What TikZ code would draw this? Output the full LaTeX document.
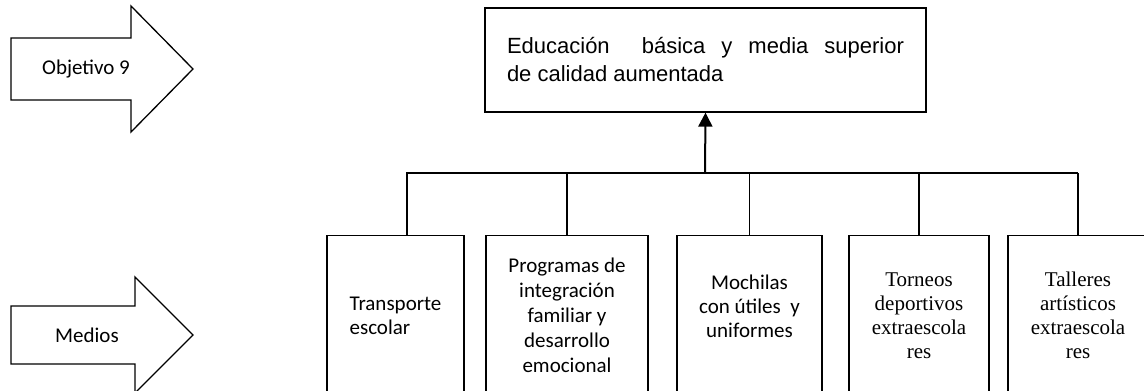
\documentclass[tikz,border=0pt]{standalone}
\usepackage{fontspec}
\setmainfont{Carlito}
\newfontfamily\arialfont{Liberation Sans}
\newfontfamily\timesfont{Liberation Serif}
\usetikzlibrary{arrows.meta}
\begin{document}
\begin{tikzpicture}[x=1pt, y=-1pt, line width=1.3pt,
  every node/.style={font=\fontsize{21}{24}\selectfont},
  medio/.style={draw, minimum width=#1, minimum height=160pt, anchor=north, inner sep=2pt, align=center}]
  \useasboundingbox (0,0) rectangle (1144,391);
  % flechas de la izquierda
  \draw (11,38)--(131,38)--(131,6)--(193,69)--(131,132)--(131,100)--(11,100)--cycle;
  \draw (11,306)--(135,306)--(135,277)--(193,335)--(135,393)--(135,364)--(11,364)--cycle;
  \node (obj) at (86,69) {Objetivo 9};
  \node (med) at (87,335) {Medios};
  % objetivo
  \node[draw, minimum width=441pt, minimum height=104pt, text width=397pt, align=justify,
        font=\arialfont\fontsize{22}{28}\selectfont] (goal) at (705.5,60)
        {Educación\ \ básica y media superior\linebreak de calidad aumentada};
  % medios
  \node[medio=137pt, align=left] (t1) at (395.5,235) {Transporte\\escolar};
  \node[medio=162pt, font=\fontsize{21}{25}\selectfont] (t2) at (567,235) {Programas de\\integración\\familiar y\\desarrollo\\emocional};
  \node[medio=145pt, text depth=18pt] (t3) at (749.5,235) {Mochilas\\con útiles\ \ y\\uniformes};
  \node[medio=140pt, font=\timesfont\fontsize{21}{24}\selectfont] (t4) at (919,235) {Torneos\\deportivos\\extraescola\\res};
  \node[medio=140pt, font=\timesfont\fontsize{21}{24}\selectfont] (t5) at (1078,235) {Talleres\\artísticos\\extraescola\\res};
  % conectores
  \coordinate (bus) at (705,173);
  \draw ([xshift=11.5pt]t1.north) |- (t5.north |- bus);
  \foreach \n in {2,...,5}
    \draw (t\n.north) -- (t\n.north |- bus);
  \draw[line width=2pt, -{Triangle[width=14pt,length=14pt]}] (bus) -- (goal.south);
\end{tikzpicture}
\end{document}
